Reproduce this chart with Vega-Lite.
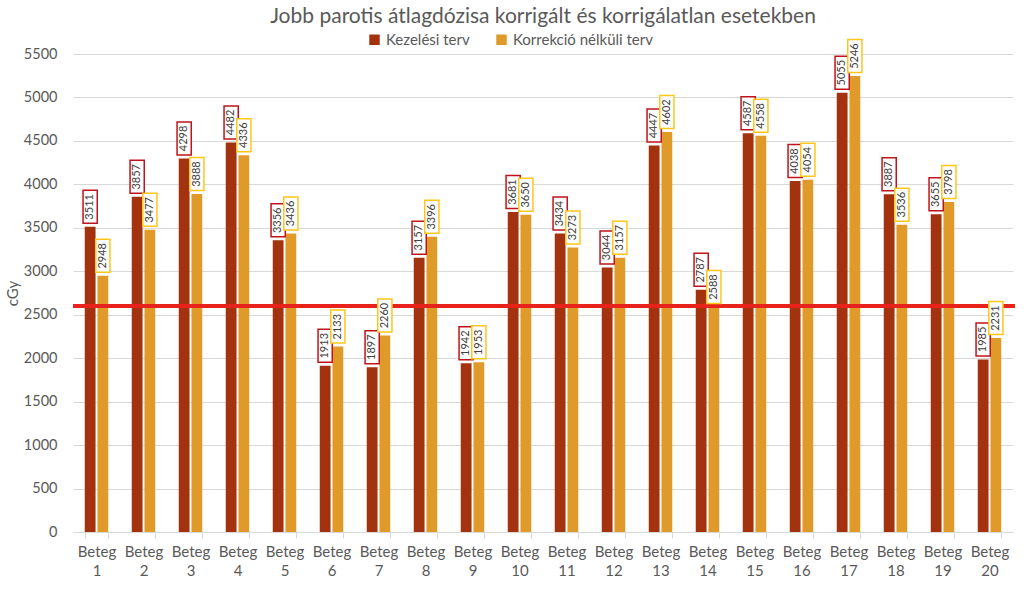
{
  "$schema": "https://vega.github.io/schema/vega-lite/v6.json",
  "width": 940,
  "height": 478,
  "autosize": {"type": "none"},
  "padding": {"left": 73, "top": 54, "right": 11, "bottom": 59},
  "background": "white",
  "config": {
    "font": "Lato",
    "view": {"stroke": null},
    "axis": {"labelColor": "#595959", "titleColor": "#595959", "labelFontSize": 15, "titleFontSize": 15, "titleFontWeight": "normal"}
  },
  "title": {"text": "Jobb parotis átlagdózisa korrigált és korrigálatlan esetekben", "fontSize": 21, "fontWeight": "normal", "color": "#595959", "offset": 5, "anchor": "middle"},
  "data": {
    "values": [
      {"n": 1, "series": "Kezelési terv", "value": 3511}, {"n": 1, "series": "Korrekció nélküli terv", "value": 2948},
      {"n": 2, "series": "Kezelési terv", "value": 3857}, {"n": 2, "series": "Korrekció nélküli terv", "value": 3477},
      {"n": 3, "series": "Kezelési terv", "value": 4298}, {"n": 3, "series": "Korrekció nélküli terv", "value": 3888},
      {"n": 4, "series": "Kezelési terv", "value": 4482}, {"n": 4, "series": "Korrekció nélküli terv", "value": 4336},
      {"n": 5, "series": "Kezelési terv", "value": 3356}, {"n": 5, "series": "Korrekció nélküli terv", "value": 3436},
      {"n": 6, "series": "Kezelési terv", "value": 1913}, {"n": 6, "series": "Korrekció nélküli terv", "value": 2133},
      {"n": 7, "series": "Kezelési terv", "value": 1897}, {"n": 7, "series": "Korrekció nélküli terv", "value": 2260},
      {"n": 8, "series": "Kezelési terv", "value": 3157}, {"n": 8, "series": "Korrekció nélküli terv", "value": 3396},
      {"n": 9, "series": "Kezelési terv", "value": 1942}, {"n": 9, "series": "Korrekció nélküli terv", "value": 1953},
      {"n": 10, "series": "Kezelési terv", "value": 3681}, {"n": 10, "series": "Korrekció nélküli terv", "value": 3650},
      {"n": 11, "series": "Kezelési terv", "value": 3434}, {"n": 11, "series": "Korrekció nélküli terv", "value": 3273},
      {"n": 12, "series": "Kezelési terv", "value": 3044}, {"n": 12, "series": "Korrekció nélküli terv", "value": 3157},
      {"n": 13, "series": "Kezelési terv", "value": 4447}, {"n": 13, "series": "Korrekció nélküli terv", "value": 4602},
      {"n": 14, "series": "Kezelési terv", "value": 2787}, {"n": 14, "series": "Korrekció nélküli terv", "value": 2588},
      {"n": 15, "series": "Kezelési terv", "value": 4587}, {"n": 15, "series": "Korrekció nélküli terv", "value": 4558},
      {"n": 16, "series": "Kezelési terv", "value": 4038}, {"n": 16, "series": "Korrekció nélküli terv", "value": 4054},
      {"n": 17, "series": "Kezelési terv", "value": 5055}, {"n": 17, "series": "Korrekció nélküli terv", "value": 5246},
      {"n": 18, "series": "Kezelési terv", "value": 3887}, {"n": 18, "series": "Korrekció nélküli terv", "value": 3536},
      {"n": 19, "series": "Kezelési terv", "value": 3655}, {"n": 19, "series": "Korrekció nélküli terv", "value": 3798},
      {"n": 20, "series": "Kezelési terv", "value": 1985}, {"n": 20, "series": "Korrekció nélküli terv", "value": 2231}
    ]
  },
  "encoding": {
    "x": {
      "field": "n", "type": "ordinal",
      "scale": {"paddingInner": 0.5, "paddingOuter": 0.25},
      "axis": {"title": null, "labelAngle": 0, "labelExpr": "datum.value ? ['Beteg', datum.value] : ''", "domainColor": "#d9d9d9", "tickColor": "#d9d9d9", "tickBand": "extent", "tickSize": 6, "labelPadding": 6, "labelLineHeight": 19}
    },
    "xOffset": {"field": "series", "type": "nominal", "sort": ["Kezelési terv", "Korrekció nélküli terv"], "scale": {"paddingInner": 0.15}},
    "y": {
      "field": "value", "type": "quantitative",
      "scale": {"domain": [0, 5500], "nice": false},
      "axis": {"title": "cGy", "format": "d", "labelFontSize": 14.5, "values": [0, 500, 1000, 1500, 2000, 2500, 3000, 3500, 4000, 4500, 5000, 5500], "gridColor": "#d9d9d9", "domain": false, "ticks": false, "labelPadding": 16, "titlePadding": 3}
    }
  },
  "layer": [
    {
      "mark": {"type": "bar"},
      "encoding": {
        "color": {
          "field": "series", "type": "nominal",
          "scale": {"domain": ["Kezelési terv", "Korrekció nélküli terv"], "range": ["#a3320f", "#e09a2a"]},
          "legend": {"title": null, "orient": "none", "direction": "horizontal", "legendX": 294, "legendY": -22, "symbolType": "square", "symbolSize": 110, "labelFontSize": 15, "labelColor": "#595959", "columnPadding": 24, "symbolStrokeWidth": 0}
        }
      }
    },
    {
      "mark": {"type": "rule", "color": "#e8231b", "strokeWidth": 3},
      "encoding": {"y": {"datum": 2600}, "x": {"value": 0}, "x2": {"value": 942}, "xOffset": null}
    },
    {
      "mark": {"type": "point", "shape": "M-0.43,-1H0.43V1H-0.43Z", "size": 1089, "filled": true, "fill": "white", "opacity": 1, "strokeWidth": 1.5, "yOffset": -20},
      "encoding": {
        "stroke": {
          "field": "series", "type": "nominal",
          "scale": {"domain": ["Kezelési terv", "Korrekció nélküli terv"], "range": ["#c0141c", "#ffc61a"]},
          "legend": null
        }
      }
    },
    {
      "mark": {"type": "text", "angle": 270, "align": "center", "baseline": "middle", "fontSize": 11, "color": "#404040", "yOffset": -20},
      "encoding": {"text": {"field": "value", "type": "quantitative", "format": "d"}}
    }
  ]
}
